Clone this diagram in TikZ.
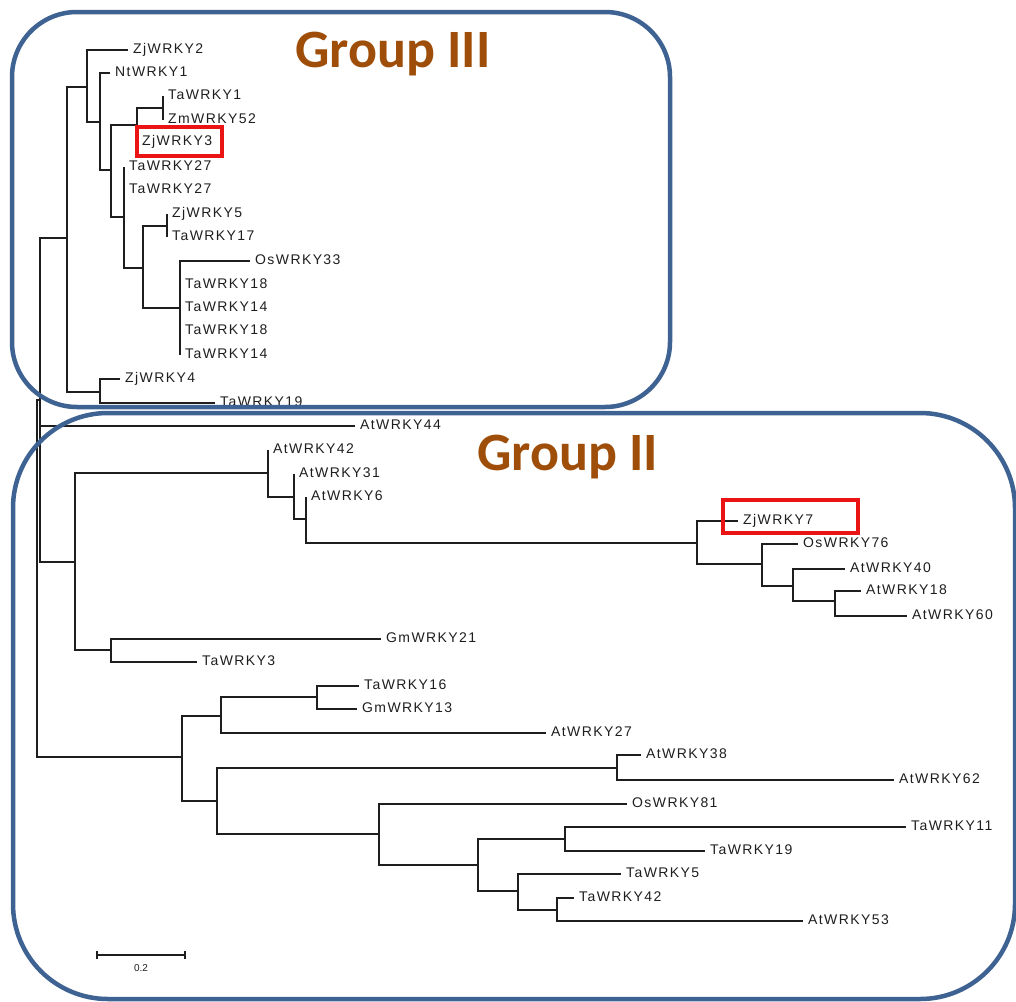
\documentclass[tikz,border=0pt]{standalone}
\usepackage{fontspec}
\setmainfont{Liberation Sans}
\newfontfamily\labfont[LetterSpace=10]{Liberation Sans}
\newfontfamily\titlefont{Carlito}
\definecolor{treecol}{RGB}{30,30,30}
\definecolor{boxblue}{RGB}{62,98,146}
\definecolor{titlebrown}{RGB}{158,78,8}
\definecolor{hlred}{RGB}{235,20,20}
\newcommand\tip[4]{\coordinate (#1) at (#2,#3); \node[tiplabel] (#1-l) at (#1) {#4};}
\begin{document}
\begin{tikzpicture}[x=1pt,y=-1pt,
  branch/.style={line width=1.3pt, draw=treecol},
  tiplabel/.style={anchor=west, inner sep=0pt, xshift=5pt, yshift=2pt,
    font=\labfont\fontsize{14}{14}\selectfont, text height=10pt, text depth=0pt, text=treecol},
  groupbox/.style={draw=boxblue, line width=4.5pt},
  grouptitle/.style={anchor=base west, inner sep=0pt, text=titlebrown,
    font=\titlefont\bfseries\fontsize{54}{54}\selectfont},
  redbox/.style={draw=hlred, line width=3.5pt, inner sep=0pt}]
\useasboundingbox (0,0) rectangle (1016,1001);
\clip (0,0) rectangle (1016,1001);
% internal nodes
\coordinate (R) at (37,578);
\coordinate (A) at (40,400);
\coordinate (G3) at (67,238);
\coordinate (B) at (87,87);
\coordinate (D) at (100,122);
\coordinate (E) at (111,170);
\coordinate (F) at (137,125);
\coordinate (FF) at (163,108);
\coordinate (H) at (124,217);
\coordinate (I) at (143,268);
\coordinate (J) at (167,226);
\coordinate (K) at (180,308);
\coordinate (C) at (100,392);
\coordinate (G2a) at (75,562);
\coordinate (M) at (268,473);
\coordinate (M2) at (294,497);
\coordinate (M3) at (306,519);
\coordinate (O) at (697,543);
\coordinate (P) at (762,564);
\coordinate (Q) at (793,586);
\coordinate (S) at (835,601);
\coordinate (N) at (111,650);
\coordinate (L) at (182,757);
\coordinate (T) at (221,716);
\coordinate (V) at (317,697);
\coordinate (U) at (217,801);
\coordinate (W) at (617,768);
\coordinate (X) at (379,834);
\coordinate (Y) at (478,865);
\coordinate (Z1) at (565,839);
\coordinate (Z2) at (518,891);
\coordinate (Z3) at (557,910);
% tips
\tip{t1}{128}{50}{ZjWRKY2}
\tip{t2}{110}{73}{NtWRKY1}
\tip{t3}{163}{96}{TaWRKY1}
\tip{t4}{163}{120}{ZmWRKY52}
\tip{t5}{137}{142}{ZjWRKY3}
\tip{t6}{124}{167}{TaWRKY27}
\tip{t7}{124}{190}{TaWRKY27}
\tip{t8}{167}{214}{ZjWRKY5}
\tip{t9}{167}{237}{TaWRKY17}
\tip{t10}{250}{261}{OsWRKY33}
\tip{t11}{180}{285}{TaWRKY18}
\tip{t12}{180}{308}{TaWRKY14}
\tip{t13}{180}{331}{TaWRKY18}
\tip{t14}{180}{355}{TaWRKY14}
\tip{t15}{120}{379}{ZjWRKY4}
\tip{t16}{215}{403}{TaWRKY19}
\tip{t17}{355}{426}{AtWRKY44}
\tip{t18}{268}{450}{AtWRKY42}
\tip{t19}{294}{474}{AtWRKY31}
\tip{t20}{306}{497}{AtWRKY6}
\tip{t21}{738}{521}{ZjWRKY7}
\tip{t22}{798}{544}{OsWRKY76}
\tip{t23}{845}{569}{AtWRKY40}
\tip{t24}{861}{591}{AtWRKY18}
\tip{t25}{907}{616}{AtWRKY60}
\tip{t26}{381}{639}{GmWRKY21}
\tip{t27}{197}{662}{TaWRKY3}
\tip{t28}{359}{686}{TaWRKY16}
\tip{t29}{357}{709}{GmWRKY13}
\tip{t30}{546}{733}{AtWRKY27}
\tip{t31}{641}{755}{AtWRKY38}
\tip{t32}{894}{780}{AtWRKY62}
\tip{t33}{627}{804}{OsWRKY81}
\tip{t34}{906}{827}{TaWRKY11}
\tip{t35}{705}{851}{TaWRKY19}
\tip{t36}{621}{874}{TaWRKY5}
\tip{t37}{574}{898}{TaWRKY42}
\tip{t38}{803}{921}{AtWRKY53}
% branches
\draw[branch] (R) |- (A);  \draw[branch] (R) |- (L);
\draw[branch] (A) |- (G3); \draw[branch] (A) |- (t17); \draw[branch] (A) |- (G2a);
\draw[branch] (G3) |- (B); \draw[branch] (G3) |- (C);
\draw[branch] (B) |- (t1); \draw[branch] (B) |- (D);
\draw[branch] (D) |- (t2); \draw[branch] (D) |- (E);
\draw[branch] (E) |- (F);  \draw[branch] (E) |- (H);
\draw[branch] (F) |- (FF); \draw[branch] (F) |- (t5);
\draw[branch] (FF) |- (t3); \draw[branch] (FF) |- (t4);
\draw[branch] (H) |- (t6); \draw[branch] (H) |- (t7); \draw[branch] (H) |- (I);
\draw[branch] (I) |- (J);  \draw[branch] (I) |- (K);
\draw[branch] (J) |- (t8); \draw[branch] (J) |- (t9);
\draw[branch] (K) |- (t10); \draw[branch] (K) |- (t11); \draw[branch] (K) |- (t12);
\draw[branch] (K) |- (t13); \draw[branch] (K) |- (t14);
\draw[branch] (C) |- (t15); \draw[branch] (C) |- (t16);
\draw[branch] (G2a) |- (M); \draw[branch] (G2a) |- (N);
\draw[branch] (M) |- (t18); \draw[branch] (M) |- (M2);
\draw[branch] (M2) |- (t19); \draw[branch] (M2) |- (M3);
\draw[branch] (M3) |- (t20); \draw[branch] (M3) |- (O);
\draw[branch] (O) |- (t21); \draw[branch] (O) |- (P);
\draw[branch] (P) |- (t22); \draw[branch] (P) |- (Q);
\draw[branch] (Q) |- (t23); \draw[branch] (Q) |- (S);
\draw[branch] (S) |- (t24); \draw[branch] (S) |- (t25);
\draw[branch] (N) |- (t26); \draw[branch] (N) |- (t27);
\draw[branch] (L) |- (T); \draw[branch] (L) |- (U);
\draw[branch] (T) |- (V); \draw[branch] (T) |- (t30);
\draw[branch] (V) |- (t28); \draw[branch] (V) |- (t29);
\draw[branch] (U) |- (W); \draw[branch] (U) |- (X);
\draw[branch] (W) |- (t31); \draw[branch] (W) |- (t32);
\draw[branch] (X) |- (t33); \draw[branch] (X) |- (Y);
\draw[branch] (Y) |- (Z1); \draw[branch] (Y) |- (Z2);
\draw[branch] (Z1) |- (t34); \draw[branch] (Z1) |- (t35);
\draw[branch] (Z2) |- (t36); \draw[branch] (Z2) |- (Z3);
\draw[branch] (Z3) |- (t37); \draw[branch] (Z3) |- (t38);
% scale bar
\coordinate (sb1) at (97,955);
\coordinate (sb2) at (185,955);
\draw[branch] (sb1) -- (sb2);
\draw[branch] ([yshift=4pt]sb1) -- ([yshift=-4pt]sb1);
\draw[branch] ([yshift=4pt]sb2) -- ([yshift=-4pt]sb2);
\node[font=\fontsize{10}{10}\selectfont, text=treecol, inner sep=0pt] (sbl) at (141,968) {0.2};
% group boxes
\draw[groupbox, rounded corners=65pt] (12,12) rectangle (670,407);
\draw[groupbox, rounded corners=95pt] (13,413) rectangle (1015,999);
\node[grouptitle] (g3) at (295,67) {Group III};
\node[grouptitle] (g2) at (477,470) {Group II};
% highlight boxes
\node[redbox, minimum width=85pt, minimum height=29pt] (hl3) at (179.5,141.5) {};
\node[redbox, minimum width=135pt, minimum height=33pt] (hl7) at (790.5,516.5) {};
\end{tikzpicture}
\end{document}
